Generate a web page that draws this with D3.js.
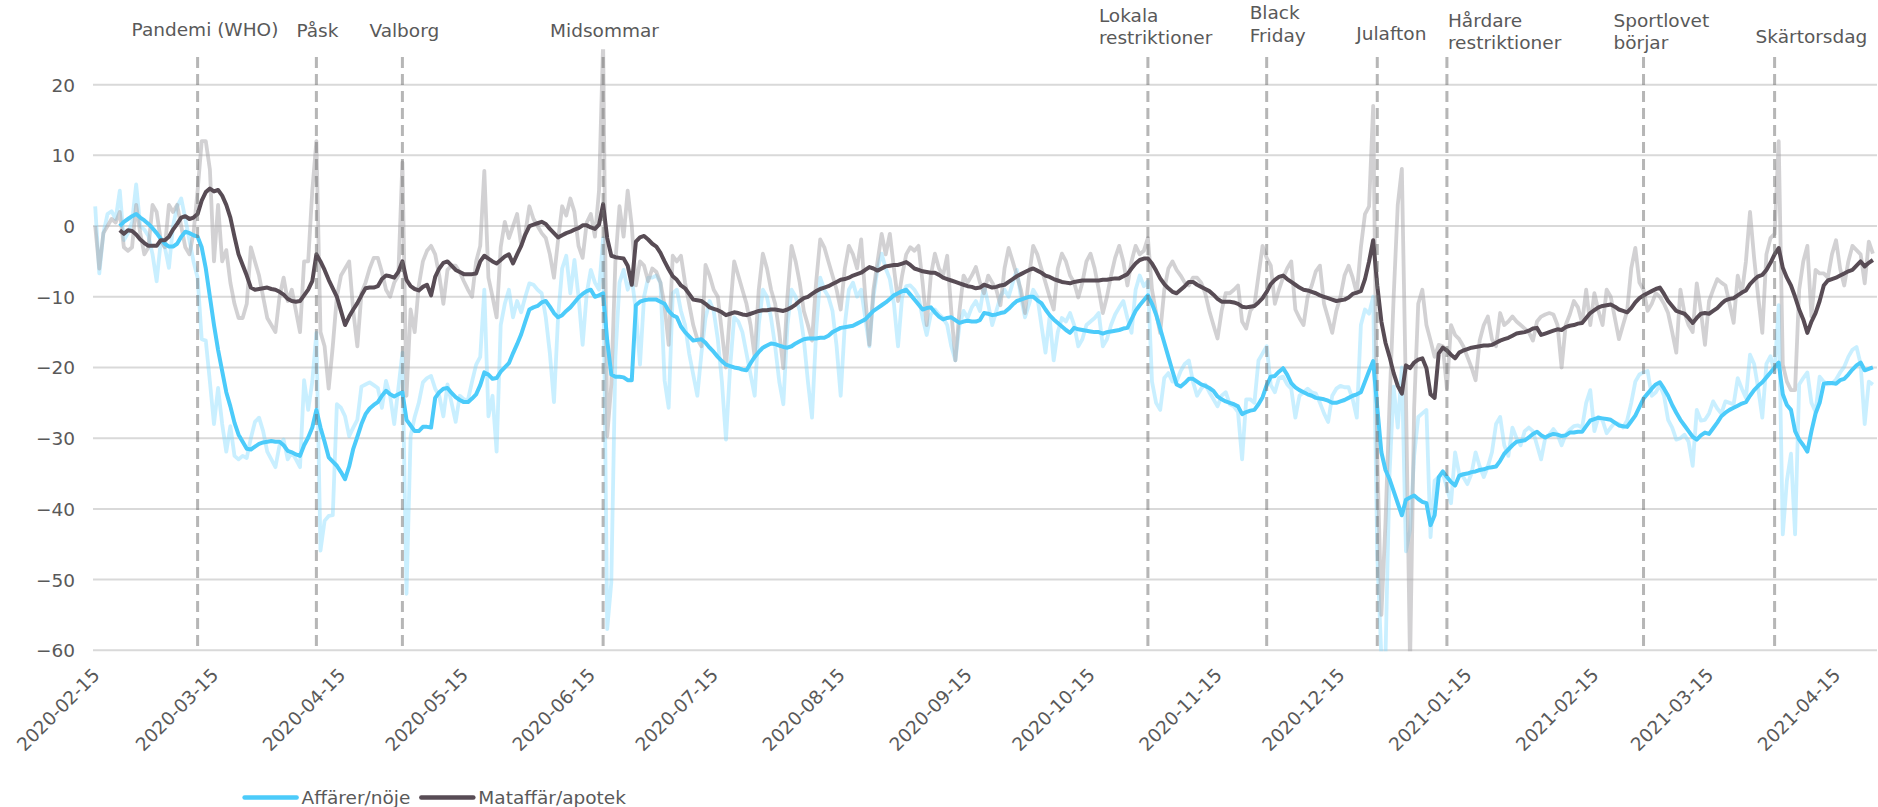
<!DOCTYPE html>
<html>
<head>
<meta charset="utf-8">
<script src="https://cdn.jsdelivr.net/npm/d3@7"></script>
<style>
  body { margin:0; background:#fff; }
  svg text { font-family:"DejaVu Sans", Verdana, sans-serif; fill:#595959; }
</style>
</head>
<body>
<svg></svg>
<script>
// daily series start 2020-02-15, 7-day averages start 2020-02-21
var dailyStart = "2020-02-15";
var avgStart = "2020-02-21";

var affDaily = [
  2.8, -6.7, -1, 1.7, 2.1, 1, 5, -2, -1, 0.6,
  5.9, 0, -0.5, -1.4, -4, -7.8, -2.2, -3, -5.9, 0,
  2.8, 3.9, 1, -2, -5, -7.3, -16, -16.2, -22, -28,
  -22.9, -28, -31.9, -28.3, -32.5, -33, -32.5, -32.8, -30, -27.7,
  -27.1, -29, -31.9, -33, -34.1, -31, -30.2, -33, -32, -33,
  -34.1, -21.8, -26, -22, -15.1, -45.9, -41.7, -41, -40.9, -25.2,
  -25.7, -26.9, -29.7, -28.5, -27.4, -22.7, -22.4, -22.1, -22.5, -22.9,
  -25.7, -21.9, -24, -28, -23, -17.9, -52, -29.7, -27, -25,
  -22.1, -21.5, -21.2, -23, -24, -26.9, -22.4, -25, -27.7, -24,
  -24.5, -24.6, -22, -19.6, -18.5, -9, -26.9, -24, -31.9, -14,
  -11, -9, -12.9, -10.6, -12.2, -10, -8.1, -8.3, -9, -9.5,
  -12.9, -18, -24.9, -12.9, -6, -4.2, -9.5, -4.8, -10, -16.8,
  -9.5, -6.2, -8, -9, -1.7, -57, -50.4, -18.5, -8, -6.2,
  -9, -7.3, -12, -19.6, -10, -7.3, -7.3, -7, -8, -21.8,
  -25.7, -9.5, -9, -12, -14, -18, -21, -24, -18, -13,
  -10.6, -12, -16, -22, -30.2, -20, -12.9, -13.5, -15, -18,
  -21, -24, -14, -9, -10, -13, -17, -22, -25.2, -14,
  -9, -10, -12, -16, -22, -27.1, -15, -7.3, -9, -10,
  -12, -17, -24, -14, -9, -8, -10, -9, -13, -17,
  -10, -6, -3.9, -6, -7.5, -11, -17, -10, -8.5, -8.4,
  -9, -10, -13, -15.4, -12.5, -11.8, -12.5, -13, -14, -17,
  -19, -14, -12, -13, -11.5, -10.6, -12, -8.4, -11, -14,
  -12, -10, -9, -10, -8, -6.2, -10, -12.9, -11, -9,
  -10, -14, -17.9, -12.9, -19, -15, -13, -13.5, -12.3, -14,
  -17, -16, -14, -13.5, -13, -12.3, -17, -16, -14, -12.5,
  -11.5, -10.6, -13, -15.1, -9, -7, -8.5, -7.8, -22, -25,
  -26, -21.5, -20.8, -22, -22, -20.5, -19.5, -19, -22, -24,
  -23, -22.4, -23.5, -24.5, -25.5, -24, -23.5, -25.2, -25.5, -26.3,
  -33, -24.5, -24.5, -25, -19, -18, -17, -22.5, -23.5, -21.5,
  -21.3, -22.4, -23, -27.1, -24, -23.5, -23, -23.5, -23.7, -25,
  -26.5, -27.7, -24, -23, -22.6, -22.8, -22.8, -24.5, -27.1, -14,
  -11.8, -12.4, -10, -46.5, -61, -61, -35, -22.7, -28.5, -20,
  -46, -43, -32.5, -27, -26.5, -26, -44, -36, -35.5, -35,
  -37, -39.2, -32, -35, -35.5, -36.5, -35, -32, -34, -35.5,
  -34, -32, -28, -27, -31, -32.5, -28.5, -30, -31, -29,
  -28.5, -29, -31, -33, -30, -29.5, -28.7, -29.5, -31, -29.5,
  -28.8, -28.3, -28.2, -28.5, -25, -23.2, -29, -27, -27.5, -29.3,
  -28.5, -27.8, -28, -28.5, -27.5, -25, -22, -21, -20.7, -20.5,
  -24, -23.5, -22.5, -24, -27.4, -28.5, -30.2, -30, -29.5, -30.5,
  -33.9, -26, -27.5, -27.4, -26.5, -24.8, -25.8, -26.5, -24.8, -25,
  -25.2, -21.5, -23, -24.3, -18.2, -19.5, -23, -27.1, -19.5, -18.4,
  -20.7, -11.2, -43.6, -36, -32.2, -43.6, -22.4, -21.5, -20.7, -25,
  -26.3, -21.3, -22, -22.4, -22.3, -21.7, -20.7, -19.9, -18.5, -17.5,
  -17.1, -19.5, -28, -22, -22.4
];

var matDaily = [
  0, -6, -1, 0, 1, 0.5, 2, -3, -3.5, -3,
  3, -1, -4, -3, 3, 2, -2, -3, 3, 2,
  3, 0, -3, -4, -1, 5, 12, 12, 8, -5,
  3, -5, -3.4, -8, -11, -13, -13, -11, -3, -5,
  -7, -10, -13, -14, -15, -10, -7.3, -10.6, -9, -12,
  -15, -5, -5, 5, 12, -15, -17, -23, -17, -10,
  -7, -6, -5, -12, -17, -9.5, -8, -6, -4.5, -4.5,
  -6.5, -9, -10, -8, -7, 9, -24, -11.8, -15, -8.4,
  -5, -3.5, -2.8, -4, -7, -11, -6.2, -5.6, -5.6, -6.5,
  -7.8, -9, -10, -5, -2.8, 7.8, -7.3, -10, -12.9, -3,
  0.6, -1.7, 0, 1.7, -2.8, -1, 2.8, 1, 0, -1,
  -1.7, -4, -7.3, -2, 2.8, 1.5, 3.9, 2, -2.8, -4.5,
  0.5, 1.7, -1.5, 5, 26, -29.7, -22.4, -5, 2.8, -1.5,
  5, 0, -8.4, -5, -5.6, -7.8, -6, -6.5, -8, -11.2,
  -16.8, -4.2, -5, -4.2, -8, -11, -14, -16, -17, -5.5,
  -7, -9, -10, -15, -20, -12, -5, -7, -9, -11,
  -14, -18.5, -9, -3.9, -6, -9, -11, -15, -20.1, -10,
  -2.8, -5, -8, -12, -14, -16.2, -8, -1.9, -3, -5,
  -7, -9, -11.8, -6, -2.8, -4, -6, -1.9, -10, -16.8,
  -9, -5, -1.1, -4, -1.1, -6, -10.6, -7, -4, -3,
  -3.5, -2.8, -8, -14, -7, -3.9, -6, -7, -4.2, -12,
  -19, -12, -7, -8, -7, -5.8, -8, -9.5, -7, -8,
  -9, -11.2, -6, -3.1, -5, -7, -9, -12.3, -7, -2.8,
  -4, -6, -8, -10, -11.8, -6, -3.9, -5, -7, -8,
  -10.1, -8, -5, -3.9, -6, -9, -12.3, -10, -7, -4.5,
  -2.8, -5, -8.4, -5, -2.8, -4, -3.5, -1.7, -9, -12.3,
  -15.1, -9, -6, -5, -6.2, -7, -8, -8.4, -7.3, -7.3,
  -8, -9.5, -12, -14, -15.9, -12, -9.5, -9.5, -9, -8.4,
  -13.5, -14.5, -12, -11.2, -7, -2.8, -4.5, -5.6, -11, -9,
  -7.3, -6, -5, -11.8, -13, -14, -10, -8.4, -6.4, -5.6,
  -11, -13, -15.1, -12, -10, -7, -5.6, -7.3, -9.5, -3,
  1.7, 2.8, 17, -32.5, -55, -42, -25, -10, 3, 8.1,
  -24, -62, -25.7, -11, -9, -14, -16.2, -18.5, -16.8, -17,
  -23, -14, -15.4, -16, -17, -18.5, -20, -21.8, -16.2, -14,
  -12.8, -16, -17, -12.3, -14, -13.5, -12.8, -13.5, -14, -14.5,
  -15, -16.2, -13.5, -12.8, -12.5, -12.3, -12.5, -14, -20, -14,
  -12.5, -10.6, -11.5, -13.7, -9, -14, -9.5, -12, -14, -9,
  -10, -13, -16, -14, -12, -6, -3.1, -8, -9, -12,
  -11, -9.5, -10, -11, -12.3, -15, -17.9, -9, -12.3, -14,
  -15, -8.1, -12, -16.8, -10.6, -9, -7.5, -8, -8.4, -11,
  -13.7, -7, -9.5, -5, 2, -4.5, -10, -15.1, -4, -1.7,
  -1.1, 12, -19.6, -22, -23.2, -23.2, -9, -5, -2.8, -12.8,
  -6.2, -6.7, -6.7, -7.3, -4, -2, -6, -8.4, -5, -2.8,
  -3.4, -4, -8.1, -2.2, -3.9
];

var affAvg = [
  0, 0.6, 1.0, 1.4, 1.7, 1.2, 0.8, 0.3, -0.3, -1.0,
  -1.8, -2.5, -2.9, -2.9, -2.5, -1.5, -0.8, -1.0, -1.3, -1.5,
  -3.0, -6.0, -10.0, -14.0, -17.5, -20.5, -23.5, -25.5, -27.8, -29.5,
  -30.5, -31.5, -31.6, -31.2, -30.8, -30.6, -30.5, -30.4, -30.5, -30.5,
  -31.0, -31.8, -32.0, -32.3, -32.5, -31.0, -29.9, -28.5, -26.0, -28.5,
  -30.5, -32.7, -33.3, -33.9, -34.8, -35.8, -34.0, -31.5, -29.8, -28.0,
  -26.6, -25.8, -25.3, -24.9, -24.0, -23.3, -23.8, -24.1, -23.8, -23.5,
  -27.4, -28.2, -29.0, -29.0, -28.4, -28.4, -28.5, -24.3, -23.5, -23.0,
  -22.9, -23.6, -24.2, -24.6, -24.9, -24.9, -24.4, -23.8, -22.5, -20.7,
  -21.0, -21.6, -21.5, -20.6, -20.0, -19.4, -18.0, -16.7, -15.3, -13.5,
  -11.8, -11.5, -11.3, -10.8, -10.6, -11.4, -12.3, -12.9, -12.6, -12.0,
  -11.5, -10.8, -10.1, -9.6, -9.2, -9.0, -10.0, -9.8, -9.5, -16.2,
  -21.0, -21.3, -21.3, -21.4, -21.8, -21.8, -11.2, -10.7, -10.5, -10.4,
  -10.4, -10.4, -10.7, -11.0, -12.0, -12.6, -12.9, -14.2, -15.0, -15.6,
  -16.2, -16.1, -16.0, -16.5, -17.2, -17.8, -18.5, -19.1, -19.6, -19.8,
  -20.0, -20.1, -20.3, -20.4, -19.4, -18.5, -17.8, -17.2, -16.9, -16.6,
  -16.7, -16.9, -17.1, -17.2, -17.0, -16.6, -16.3, -16.0, -15.9, -15.9,
  -15.9, -15.8, -15.8, -15.5, -15.0, -14.7, -14.4, -14.3, -14.2, -14.1,
  -13.8, -13.5, -13.2, -12.6, -12.0, -11.6, -11.2, -10.8, -10.3, -9.8,
  -9.5, -9.2, -9.0, -9.7, -10.4, -11.1, -11.8, -11.6, -11.5, -12.2,
  -12.8, -13.2, -13.0, -12.9, -13.3, -13.7, -13.5, -13.4, -13.5, -13.5,
  -13.3, -12.3, -12.4, -12.6, -12.5, -12.3, -12.2, -11.7, -11.1, -10.6,
  -10.4, -10.2, -10.0, -10.0, -10.5, -10.9, -11.8, -12.6, -13.2, -13.7,
  -14.2, -14.7, -15.1, -14.4, -14.6, -14.7, -14.8, -14.9, -15.0, -15.0,
  -15.2, -15.0, -14.9, -14.8, -14.7, -14.5, -14.4, -13.2, -12.0, -11.2,
  -10.5, -9.8, -11.0, -12.5, -14.5, -16.5, -18.5, -20.5, -22.4, -22.7,
  -22.2, -21.6, -21.6, -22.0, -22.4, -22.6, -22.9, -23.3, -24.1, -24.5,
  -24.8, -25.0, -25.2, -25.5, -26.6, -26.3, -26.1, -26.0, -25.2, -24.2,
  -22.5, -21.3, -21.2, -20.6, -20.1, -21.0, -22.2, -22.8, -23.2, -23.5,
  -23.8, -24.0, -24.3, -24.4, -24.5, -24.7, -25.0, -25.0, -24.8, -24.6,
  -24.3, -24.0, -23.8, -23.5, -22.0, -20.5, -19.1, -25.7, -32.0, -34.5,
  -35.8, -37.5, -39.2, -40.9, -38.7, -38.4, -38.1, -38.6, -39.0, -39.2,
  -42.3, -40.9, -35.5, -34.7, -35.5, -36.2, -36.7, -35.3, -35.1, -35.0,
  -34.8, -34.7, -34.5, -34.4, -34.2, -34.1, -34.0, -33.2, -32.2, -31.6,
  -31.0, -30.5, -30.4, -30.3, -29.9, -29.4, -29.1, -29.6, -29.9, -29.6,
  -29.4, -29.5, -29.7, -29.6, -29.2, -29.2, -29.1, -29.1, -28.3, -27.5,
  -27.3, -27.1, -27.2, -27.3, -27.4, -27.8, -28.2, -28.3, -28.4, -27.6,
  -26.8, -25.6, -24.4, -23.7, -23.0, -22.4, -22.1, -23.0, -24.0, -25.3,
  -26.4, -27.4, -28.2, -29.0, -29.8, -30.2, -29.6, -29.2, -29.4, -28.6,
  -27.8, -26.9, -26.4, -26.0, -25.7, -25.4, -25.1, -24.9, -24.0, -23.2,
  -22.6, -22.1, -21.4, -20.7, -20.0, -19.3, -23.8, -25.3, -26.0, -29.0,
  -30.2, -31.0, -31.9, -29.0, -26.5, -25.0, -22.3, -22.2, -22.2, -22.3,
  -21.8, -21.6, -21.0, -20.3, -19.7, -19.3, -20.4, -20.2, -20.0
];

var matAvg = [
  -0.6, -1.1, -0.6, -0.7, -1.2, -1.9, -2.4, -2.8, -2.8, -2.8,
  -2.0, -2.0, -1.5, -0.5, 0.3, 1.2, 1.4, 1.0, 1.2, 1.7,
  3.6, 4.8, 5.3, 4.9, 5.1, 4.3, 3.0, 1.2, -1.5, -4.0,
  -5.5, -7.0, -8.7, -9.0, -8.9, -8.8, -8.7, -8.9, -9.0, -9.3,
  -9.7, -10.3, -10.6, -10.7, -10.6, -9.8, -9.0, -7.8, -4.0, -5.0,
  -6.2, -7.6, -8.8, -10.0, -12.0, -14.0, -12.8, -11.8, -10.9, -9.8,
  -8.8, -8.7, -8.7, -8.5, -7.5, -7.0, -7.1, -7.3, -6.5, -5.0,
  -7.6, -8.5, -8.9, -9.1, -8.6, -8.3, -9.8, -7.2, -6.0, -5.2,
  -5.0, -5.6, -6.2, -6.5, -6.8, -6.8, -6.8, -6.7, -5.0, -4.2,
  -4.6, -5.0, -5.3, -4.8, -4.3, -4.0, -5.3, -4.0, -2.8, -1.2,
  0.0, 0.2, 0.4, 0.6, 0.3, -0.4, -1.0, -1.6, -1.3, -1.0,
  -0.8, -0.5, -0.3, 0.1, 0.1, -0.2, -0.4, 0.2, 3.1, -1.7,
  -4.2, -4.4, -4.5, -4.6, -5.6, -8.3, -2.2, -1.6, -1.4, -1.9,
  -2.5, -2.9, -3.8, -5.0, -6.1, -7.1, -7.6, -8.4, -8.8, -9.6,
  -10.4, -10.5, -10.6, -11.0, -11.5, -11.7, -11.9, -12.2, -12.6, -12.4,
  -12.2, -12.3, -12.5, -12.6, -12.4, -12.2, -12.0, -11.9, -11.9, -11.8,
  -11.8, -11.9, -12.0, -11.8, -11.5, -11.1, -10.6, -10.2, -10.0, -9.6,
  -9.2, -8.9, -8.7, -8.5, -8.2, -7.9, -7.6, -7.5, -7.3, -7.0,
  -6.8, -6.6, -6.2, -5.8, -6.0, -6.3, -6.0, -5.7, -5.6, -5.5,
  -5.5, -5.3, -5.1, -5.5, -6.0, -6.2, -6.4, -6.5, -6.6, -6.6,
  -6.9, -7.3, -7.5, -7.7, -7.9, -8.1, -8.3, -8.5, -8.6, -8.8,
  -8.7, -8.3, -8.5, -8.7, -8.6, -8.4, -8.3, -7.9, -7.5, -7.1,
  -6.8, -6.5, -6.2, -6.0, -6.3, -6.6, -7.0, -7.2, -7.5, -7.7,
  -7.9, -8.0, -8.1, -7.9, -7.8, -7.7, -7.7, -7.7, -7.7, -7.7,
  -7.6, -7.6, -7.5, -7.4, -7.4, -7.1, -6.8, -6.0, -5.3, -4.8,
  -4.6, -4.6, -5.3, -6.3, -7.4, -8.2, -8.8, -9.3, -9.5, -9.0,
  -8.5, -7.9, -7.9, -8.3, -8.6, -8.9, -9.2, -9.7, -10.3, -10.7,
  -10.7, -10.7, -10.8, -11.0, -11.4, -11.5, -11.4, -11.3, -10.8, -10.2,
  -9.3, -8.2, -7.6, -7.2, -7.0, -7.5, -7.9, -8.3, -8.7, -9.0,
  -9.1, -9.3, -9.5, -9.8, -10.0, -10.2, -10.4, -10.6, -10.5, -10.4,
  -10.1, -9.6, -9.4, -9.2, -7.5, -5.0, -2.0, -8.4, -13.5, -16.5,
  -18.5, -20.8, -22.6, -23.7, -19.7, -20.1, -19.3, -18.9, -18.7, -20.1,
  -23.8, -24.3, -18.0, -17.2, -17.6, -18.2, -18.7, -17.9, -17.6, -17.4,
  -17.2, -17.1, -17.0, -16.9, -16.9, -16.8, -16.5, -16.2, -16.0, -15.8,
  -15.5, -15.2, -15.1, -15.0, -14.8, -14.5, -14.4, -15.4, -15.2, -15.0,
  -14.8, -14.6, -14.7, -14.3, -14.1, -14.0, -13.8, -13.7, -13.0, -12.3,
  -11.9, -11.5, -11.3, -11.2, -11.1, -11.4, -11.8, -12.0, -12.2, -11.6,
  -10.8, -10.2, -9.8, -9.5, -9.2, -8.9, -8.7, -9.6, -10.6, -11.3,
  -12.0, -12.2, -12.4, -13.0, -13.7, -13.0, -12.4, -12.3, -12.4, -12.0,
  -11.6, -11.0, -10.5, -10.3, -10.2, -9.8, -9.4, -9.1, -8.2, -7.6,
  -7.1, -6.9, -6.2, -5.2, -4.0, -3.1, -5.9, -7.3, -8.4, -10.0,
  -11.8, -13.2, -15.1, -13.5, -12.3, -10.6, -8.4, -7.7, -7.5, -7.3,
  -7.0, -6.7, -6.4, -6.2, -5.6, -5.0, -5.7, -5.2, -4.8
];

var seriesNames = ["Affärer/nöje", "Mataffär/apotek"];

var eventDates = ["2020-03-11", "2020-04-09", "2020-04-30", "2020-06-18", "2020-10-29",
                  "2020-11-27", "2020-12-24", "2021-01-10", "2021-02-27", "2021-03-31"];
var eventLabels = [["Pandemi (WHO)"], ["Påsk"], ["Valborg"], ["Midsommar"], ["Lokala", "restriktioner"],
                   ["Black", "Friday"], ["Julafton"], ["Hårdare", "restriktioner"], ["Sportlovet", "börjar"], ["Skärtorsdag"]];

var tickDates = ["2020-02-15", "2020-03-15", "2020-04-15", "2020-05-15", "2020-06-15", "2020-07-15",
                 "2020-08-15", "2020-09-15", "2020-10-15", "2020-11-15", "2020-12-15", "2021-01-15",
                 "2021-02-15", "2021-03-15", "2021-04-15"];
var yTicks = [-60, -50, -40, -30, -20, -10, 0, 10, 20];

// label placement (left offset from the event line, first baseline)
var labelDx = [-66, -20, -33, -53, -49, -17, -21, 1, -30, -19];
var labelY = [36, 37, 37, 37, 21.7, 19, 40, 26.7, 26.7, 42.7];

var drawChart = function()
{
  var screen = { width: 1878, height: 807 };
  var plot = { left: 95.2, right: 1877, top: 49.3, bottom: 650.3, gridLeft: 93 };

  var parse = d3.timeParse("%Y-%m-%d");
  var fmt = d3.timeFormat("%Y-%m-%d");

  var svg = d3.select("svg")
              .attr("width", screen.width)
              .attr("height", screen.height);

  var xscale = d3.scaleTime()
                 .domain([parse("2020-02-15"), parse("2021-04-25")])
                 .range([plot.left, plot.right]);
  var yscale = d3.scaleLinear()
                 .domain([-60, 25])
                 .range([plot.bottom, plot.top]);

  var toPoints = function(start, values)
  {
    var s = parse(start);
    return values.map(function(v, i)
    {
      return { date: d3.timeDay.offset(s, i), value: v };
    });
  };

  // gridlines
  svg.append("g")
     .selectAll("line")
     .data(yTicks)
     .enter()
     .append("line")
     .attr("x1", plot.gridLeft)
     .attr("x2", plot.right)
     .attr("y1", function(d) { return yscale(d); })
     .attr("y2", function(d) { return yscale(d); })
     .attr("stroke", "#d9d9d9")
     .attr("stroke-width", 2);

  // y axis labels
  var yAxis = svg.append("g")
                 .attr("transform", "translate(75,0)")
                 .call(d3.axisLeft(yscale).tickValues(yTicks).tickSize(0).tickPadding(0));
  yAxis.select(".domain").remove();
  yAxis.selectAll("text")
       .attr("font-size", "18.5px")
       .attr("fill", "#595959")
       .attr("dy", "0.35em")
       .style("font-family", "DejaVu Sans");

  // x axis labels, rotated
  var xAxis = svg.append("g")
                 .attr("transform", "translate(0," + plot.bottom + ")")
                 .call(d3.axisBottom(xscale)
                         .tickValues(tickDates.map(parse))
                         .tickFormat(fmt)
                         .tickSize(0));
  xAxis.select(".domain").remove();
  xAxis.selectAll("text")
       .attr("font-size", "18.5px")
       .attr("fill", "#595959")
       .attr("text-anchor", "end")
       .attr("y", 0)
       .attr("dy", 0)
       .attr("transform", "translate(5,26) rotate(-45)")
       .style("font-family", "DejaVu Sans");

  svg.append("clipPath")
     .attr("id", "plotClip")
     .append("rect")
     .attr("x", plot.gridLeft)
     .attr("y", plot.top)
     .attr("width", plot.right - plot.gridLeft + 1)
     .attr("height", plot.bottom - plot.top + 1);

  var line = d3.line()
               .x(function(d) { return xscale(d.date); })
               .y(function(d) { return yscale(d.value); });

  var lines = svg.append("g").attr("clip-path", "url(#plotClip)");

  var series = [
    { pts: toPoints(dailyStart, affDaily), color: "#7fd8ff", opacity: 0.42, width: 3.8 },
    { pts: toPoints(dailyStart, matDaily), color: "#a5a3a7", opacity: 0.5, width: 3.8 },
    { pts: toPoints(avgStart, affAvg), color: "#4ccbfa", opacity: 1, width: 4 },
    { pts: toPoints(avgStart, matAvg), color: "#584c55", opacity: 1, width: 4 }
  ];

  lines.selectAll("path")
       .data(series)
       .enter()
       .append("path")
       .attr("d", function(d) { return line(d.pts); })
       .attr("fill", "none")
       .attr("stroke", function(d) { return d.color; })
       .attr("stroke-opacity", function(d) { return d.opacity; })
       .attr("stroke-width", function(d) { return d.width; })
       .attr("stroke-linejoin", "round");

  // event markers
  var events = eventDates.map(function(d, i)
  {
    return { date: parse(d), label: eventLabels[i], dx: labelDx[i], y: labelY[i] };
  });

  svg.append("g")
     .selectAll("line")
     .data(events)
     .enter()
     .append("line")
     .attr("x1", function(d) { return xscale(d.date); })
     .attr("x2", function(d) { return xscale(d.date); })
     .attr("y1", 57)
     .attr("y2", plot.bottom)
     .attr("stroke", "#6e6e6e")
     .attr("stroke-opacity", 0.5)
     .attr("stroke-width", 3)
     .attr("stroke-dasharray", "11,6");

  var labels = svg.append("g")
                  .selectAll("text")
                  .data(events)
                  .enter()
                  .append("text")
                  .attr("font-size", "18.5px")
                  .attr("x", function(d) { return xscale(d.date) + d.dx; })
                  .attr("y", function(d) { return d.y; });
  labels.selectAll("tspan")
        .data(function(d)
        {
          return d.label.map(function(t) { return { text: t, x: xscale(d.date) + d.dx }; });
        })
        .enter()
        .append("tspan")
        .attr("x", function(d) { return d.x; })
        .attr("dy", function(d, i) { return i == 0 ? 0 : 22.6; })
        .text(function(d) { return d.text; });

  // legend
  var legendColors = ["#4ccbfa", "#584c55"];
  var legend = svg.append("g");
  var lx = 244.6;
  var ly = 797.5;
  seriesNames.forEach(function(name, i)
  {
    legend.append("line")
          .attr("x1", lx)
          .attr("x2", lx + 52)
          .attr("y1", ly)
          .attr("y2", ly)
          .attr("stroke", legendColors[i])
          .attr("stroke-width", 4.5)
          .attr("stroke-linecap", "round");
    var t = legend.append("text")
                  .attr("x", lx + 57)
                  .attr("y", ly + 6.5)
                  .attr("font-size", "18.5px")
                  .text(name);
    lx = lx + 57 + t.node().getComputedTextLength() + 11;
  });
};

drawChart();
</script>
</body>
</html>
